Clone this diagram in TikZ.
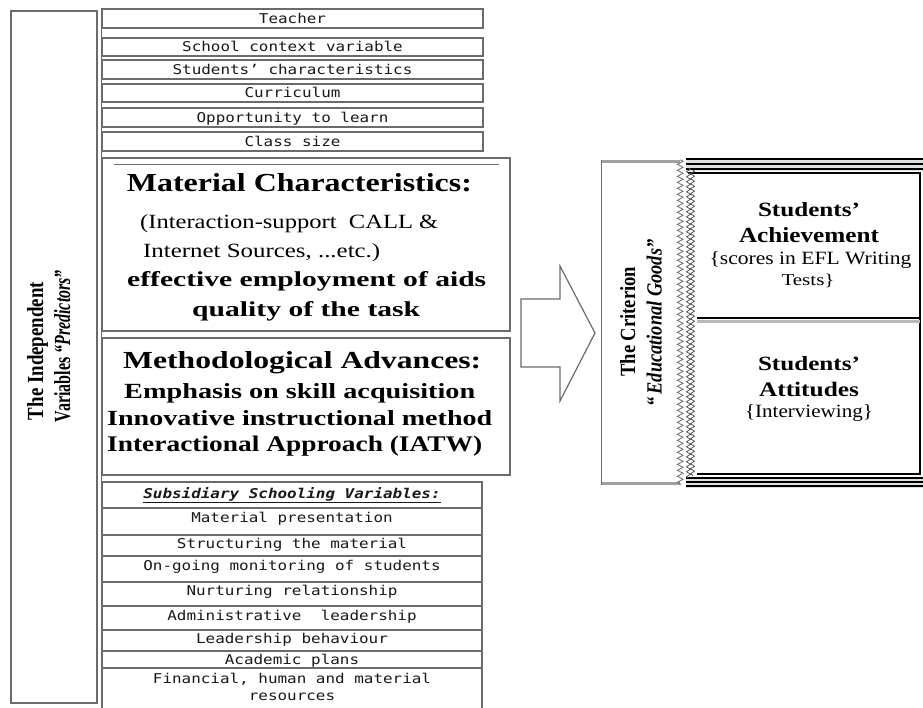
\documentclass[tikz,border=0pt]{standalone}
\usepackage{graphicx}
\usepackage{fontspec}
\setmainfont{Liberation Serif}
\newfontfamily\monofam[FakeStretch=1.18]{DejaVu Sans Mono}
\usetikzlibrary{decorations.pathmorphing}
\definecolor{linegray}{gray}{0.42}
\newcommand{\fitline}[3]{\resizebox{#1pt}{#2pt}{#3}}
\tikzset{
  box/.style={draw=linegray, line width=1.2pt, inner sep=0pt},
  topbox/.style={box, minimum width=381pt, font=\monofam\fontsize{13.5}{16}\selectfont,
    text=black!90, text height=9.8pt, text depth=0pt},
  rowbox/.style={box, minimum width=380pt},
  rowtext/.style={inner sep=0pt, anchor=base, font=\monofam\fontsize{13.5}{19}\selectfont, text=black!90},
  ln/.style={inner sep=0pt, anchor=base west},
  lc/.style={inner sep=0pt, anchor=base},
  zz/.style={decorate, decoration={zigzag, segment length=6pt, amplitude=2.8pt}},
  zzs/.style={decorate, decoration={zigzag, segment length=5pt, amplitude=2pt}},
  area/.style={inner sep=0pt, draw=none},
}
\begin{document}
\begin{tikzpicture}[x=1pt,y=-1pt]
\useasboundingbox[fill=white] (0,0) rectangle (923,707);

% left tall box
\node[box, minimum width=86pt, minimum height=692pt] (indep) at (54,357) {};
\draw[linegray, line width=1.2pt] ([xshift=3.5pt]indep.north east) -- ([xshift=3.5pt,yshift=-6pt]indep.south east);
\node[lc, rotate=90] (ind1) at (43,351) {\fitline{138}{16}{\bfseries The Independent}};
\node[lc, rotate=90] (ind2) at (70,346) {\fitline{152}{16}{\bfseries Variables \itshape\textquotedblleft Predictors\textquotedblright}};

% top boxes
\node[topbox, minimum height=19pt] (teacher) at (292.5,18.5) {Teacher};
\node[topbox, minimum height=18pt] (school) at (292.5,47) {School context variable};
\node[topbox, minimum height=19pt] (studch) at (292.5,69.5) {Students’ characteristics};
\node[topbox, minimum height=18pt] (curr) at (292.5,93) {Curriculum};
\node[topbox, minimum height=19pt] (opp) at (292.5,117.5) {Opportunity to learn};
\node[topbox, minimum height=19pt] (class) at (292.5,141.5) {Class size};

% material box
\node[box, minimum width=408pt, minimum height=173pt] (mat) at (306,244.5) {};
\draw[linegray, line width=0.8pt] ([xshift=13pt,yshift=-7pt]mat.north west) -- ([xshift=-12pt,yshift=-7pt]mat.north east);
\node[ln] (m1) at (126.7,191.7) {\fitline{345}{18}{\bfseries Material Characteristics:}};
\node[ln] (m2) at (140,228) {\fitline{298}{14}{(Interaction-support\ \ CALL \&}};
\node[ln] (m3) at (143,257) {\fitline{237}{14}{Internet Sources, ...etc.)}};
\node[ln] (m4) at (127,286.7) {\fitline{359}{15}{\bfseries effective employment of aids}};
\node[ln] (m5) at (192,316.5) {\fitline{228}{15}{\bfseries quality of the task}};

% methodological box
\node[box, minimum width=408pt, minimum height=137pt] (meth) at (306,406.5) {};
\node[ln] (d1) at (123,368.3) {\fitline{358}{17}{\bfseries Methodological Advances:}};
\node[ln] (d2) at (124,398.3) {\fitline{351}{15}{\bfseries Emphasis on skill acquisition}};
\node[ln] (d3) at (107,425) {\fitline{385}{15}{\bfseries Innovative instructional method}};
\node[ln] (d4) at (107,451.7) {\fitline{375}{15.5}{\bfseries Interactional Approach (IATW)}};

% subsidiary table
\node[rowbox, minimum height=26pt] (sub) at (292,495) {};
\node[rowbox, minimum height=27pt] (r1) at (292,521.5) {};
\node[rowbox, minimum height=21pt] (r2) at (292,545.5) {};
\node[rowbox, minimum height=26pt] (r3) at (292,569) {};
\node[rowbox, minimum height=24pt] (r4) at (292,594) {};
\node[rowbox, minimum height=24pt] (r5) at (292,618) {};
\node[rowbox, minimum height=21pt] (r6) at (292,640.5) {};
\node[rowbox, minimum height=17pt] (r7) at (292,659.5) {};
\node[rowbox, minimum height=42pt] (r8) at (292,689) {};
\node[rowtext] (tsub) at (292,498) {\bfseries\itshape\underline{Subsidiary Schooling Variables:}};
\node[rowtext] (t1) at (292,522) {Material presentation};
\node[rowtext] (t2) at (292,548) {Structuring the material};
\node[rowtext] (t3) at (292,570) {On-going monitoring of students};
\node[rowtext] (t4) at (292,595) {Nurturing relationship};
\node[rowtext] (t5) at (292,620) {Administrative\ \ leadership};
\node[rowtext] (t6) at (292,643) {Leadership behaviour};
\node[rowtext] (t7) at (292,664) {Academic plans};
\node[rowtext] (t8a) at (292,683) {Financial, human and material};
\node[rowtext] (t8b) at (292,700.5) {resources};

% block arrow
\draw[linegray, line width=1.2pt, line join=miter] (521,299) -- (560,299) -- (560,266) -- (595,333) -- (560,401) -- (560,367) -- (521,367) -- cycle;

% criterion box
\node[area, minimum width=80pt, minimum height=325pt] (crit) at (642,322.5) {};
\draw[linegray, line width=1.2pt] (crit.north west) -- (crit.south west);
\draw[gray!75, line width=3.5pt] ([yshift=-1.5pt]crit.north west) -- ([xshift=-2pt,yshift=-1.5pt]crit.north east);
\draw[gray!75, line width=3.5pt] ([yshift=1.5pt]crit.south west) -- ([xshift=-2pt,yshift=1.5pt]crit.south east);
\draw[linegray, line width=0.8pt, zz] ([xshift=-2pt]crit.north east) -- ([xshift=-2pt]crit.south east);
\node[lc, rotate=90] (crit1) at (635,321.7) {\fitline{110}{15}{\bfseries The Criterion}};
\node[lc, rotate=90] (crit2) at (661.7,323) {\fitline{167}{15}{\bfseries\itshape\textquotedblleft\,Educational Goods\textquotedblright}};

% outcome boxes
\node[area, minimum width=223pt, minimum height=145pt] (ach) at (808.5,245.5) {};
\node[area, minimum width=223pt, minimum height=156pt] (att) at (808.5,396) {};
\fill[gray!25] (686,157.5) rectangle (923,170.5);
\fill[gray!25] (686,476.5) rectangle (923,487.5);
\foreach \yy in {159,164,169,478,482,486}
  \draw[black, line width=1.4pt] (686,\yy) -- (923,\yy);
\draw[black, line width=2pt] ([xshift=-9pt]ach.north west) -- (ach.north east) -- (att.south east) -- (att.south west);
\draw[gray!55, line width=3pt] ([yshift=-3.5pt]ach.south west) -- ([yshift=-3.5pt]ach.south east);
\draw[black, line width=2pt] (ach.south west) -- (ach.south east);
\draw[gray!60!black, line width=0.7pt, zzs] (688.5,168) -- (688.5,478);
\draw[gray!60!black, line width=0.7pt, zzs] (692.5,170) -- (692.5,476);

\node[lc] (a1) at (809,216.7) {\fitline{102}{14}{\bfseries Students’}};
\node[lc] (a2) at (809,242.3) {\fitline{140}{15}{\bfseries Achievement}};
\node[lc] (a3) at (810.5,264) {\fitline{202}{13}{\{scores in EFL Writing}};
\node[lc] (a4) at (808,285) {\fitline{53}{11.5}{Tests\}}};
\node[lc] (b1) at (809,370) {\fitline{102}{14}{\bfseries Students’}};
\node[lc] (b2) at (809,396) {\fitline{100}{14.3}{\bfseries Attitudes}};
\node[lc] (b3) at (809,417.7) {\fitline{128}{13}{\{Interviewing\}}};
\end{tikzpicture}
\end{document}
